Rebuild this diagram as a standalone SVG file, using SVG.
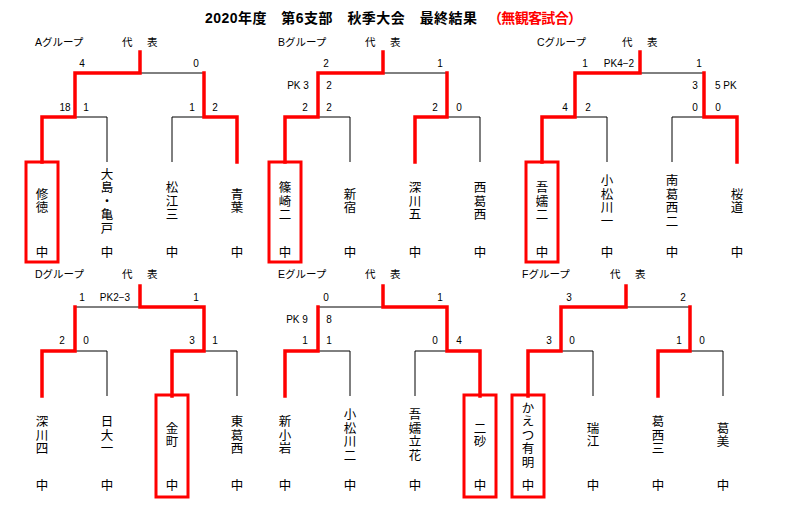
<svg xmlns="http://www.w3.org/2000/svg" width="792" height="511" viewBox="0 0 792 511">
<style>
text{font-family:"Liberation Sans","Noto Sans CJK JP",sans-serif;fill:#000}
.t{font-size:14px;font-weight:bold}
.s{font-size:10px;text-anchor:middle}
.l{font-size:10.5px}
.n{font-size:12.5px;text-anchor:middle}
.k{fill:none;stroke:#000;stroke-width:1}
.r{fill:none;stroke:#f00;stroke-width:3.5;stroke-linejoin:miter;stroke-linecap:square}
.b{fill:none;stroke:#f00;stroke-width:3}
</style>
<rect width="792" height="511" fill="#fff"/>
<text class="t" x="205" y="23" textLength="272">2020年度　第6支部　秋季大会　最終結果</text>
<text class="t" x="488" y="23" fill="#f00" style="fill:#f00" textLength="94">（無観客試合）</text>

<defs>
<g id="base">
<path class="k" d="M42,162V117H107V162M172,162V117H237V162M75,117V73H204V117M140,73V52"/>
</g>
</defs>

<g id="connectors">
<g transform="translate(0,0)"><use href="#base"/><path class="r" d="M42,162V117H75V73H140V52M204,73V117H237V162"/></g>
<g transform="translate(243,0)"><use href="#base"/><path class="r" d="M42,162V117H75V73H140V52M204,73V117H172V162"/></g>
<g transform="translate(500,0)"><use href="#base"/><path class="r" d="M42,162V117H75V73H140V52M204,73V117H237V162"/></g>
<g transform="translate(0,234)"><use href="#base"/><path class="r" d="M42,162V117H75V73M140,52V73H204V117H172V162"/></g>
<g transform="translate(243,234)"><use href="#base"/><path class="r" d="M42,162V117H75V73M140,52V73H204V117H237V162"/></g>
<g transform="translate(486,234)"><use href="#base"/><path class="r" d="M42,162V117H75V73H140V52M204,73V117H172V162"/></g>
</g>

<!-- Group A -->
<g id="groupA">
<text class="l" x="35" y="46">Aグループ</text><text class="l" x="122" y="46">代</text><text class="l" x="147" y="46">表</text>
<g class="scores"><text class="s" x="82" y="67">4</text><text class="s" x="196" y="67">0</text><text class="s" x="65" y="111">18</text><text class="s" x="86" y="111">1</text><text class="s" x="192" y="111">1</text><text class="s" x="215" y="111">2</text></g>
<g id="a1"><rect class="b" x="26" y="162" width="32" height="100"/><text class="n" x="42" y="198.75">修<tspan x="42" dy="13.5">徳</tspan></text><text class="n" x="42" y="256.5">中</text></g>
<g id="a2"><text class="n" x="107" y="178.5">大<tspan x="107" dy="13.5">島</tspan><tspan x="107" dy="13.5">・</tspan><tspan x="107" dy="13.5">亀</tspan><tspan x="107" dy="13.5">戸</tspan></text><text class="n" x="107" y="256.5">中</text></g>
<g id="a3"><text class="n" x="172" y="192">松<tspan x="172" dy="13.5">江</tspan><tspan x="172" dy="13.5">三</tspan></text><text class="n" x="172" y="256.5">中</text></g>
<g id="a4"><text class="n" x="237" y="198.75">青<tspan x="237" dy="13.5">葉</tspan></text><text class="n" x="237" y="256.5">中</text></g>
</g>

<!-- Group B -->
<g id="groupB" transform="translate(243,0)">
<text class="l" x="35" y="46">Bグループ</text><text class="l" x="122" y="46">代</text><text class="l" x="147" y="46">表</text>
<g class="scores"><text class="s" x="83" y="67">2</text><text class="s" x="197" y="67">1</text><text class="s" x="55" y="89">PK 3</text><text class="s" x="86" y="89">2</text><text class="s" x="62" y="111">2</text><text class="s" x="86" y="111">2</text><text class="s" x="192" y="111">2</text><text class="s" x="216" y="111">0</text></g>
<g id="b1"><rect class="b" x="26" y="162" width="32" height="100"/><text class="n" x="42" y="192">篠<tspan x="42" dy="13.5">崎</tspan><tspan x="42" dy="13.5">二</tspan></text><text class="n" x="42" y="256.5">中</text></g>
<g id="b2"><text class="n" x="107" y="198.75">新<tspan x="107" dy="13.5">宿</tspan></text><text class="n" x="107" y="256.5">中</text></g>
<g id="b3"><text class="n" x="172" y="192">深<tspan x="172" dy="13.5">川</tspan><tspan x="172" dy="13.5">五</tspan></text><text class="n" x="172" y="256.5">中</text></g>
<g id="b4"><text class="n" x="237" y="192">西<tspan x="237" dy="13.5">葛</tspan><tspan x="237" dy="13.5">西</tspan></text><text class="n" x="237" y="256.5">中</text></g>
</g>

<!-- Group C -->
<g id="groupC" transform="translate(500,0)">
<text class="l" x="37" y="46">Cグループ</text><text class="l" x="122" y="46">代</text><text class="l" x="147" y="46">表</text>
<g class="scores"><text class="s" x="85" y="67">1</text><text class="s" x="119" y="67">PK4−2</text><text class="s" x="199" y="67">1</text><text class="s" x="195" y="89">3</text><text class="l" x="215" y="89" style="font-size:10px">5 PK</text><text class="s" x="65" y="111">4</text><text class="s" x="88" y="111">2</text><text class="s" x="195" y="111">0</text><text class="s" x="218" y="111">0</text></g>
<g id="c1"><rect class="b" x="26" y="162" width="32" height="100"/><text class="n" x="42" y="192">吾<tspan x="42" dy="13.5">嬬</tspan><tspan x="42" dy="13.5">二</tspan></text><text class="n" x="42" y="256.5">中</text></g>
<g id="c2"><text class="n" x="107" y="185.25">小<tspan x="107" dy="13.5">松</tspan><tspan x="107" dy="13.5">川</tspan><tspan x="107" dy="13.5">一</tspan></text><text class="n" x="107" y="256.5">中</text></g>
<g id="c3"><text class="n" x="172" y="185.25">南<tspan x="172" dy="13.5">葛</tspan><tspan x="172" dy="13.5">西</tspan><tspan x="172" dy="13.5">二</tspan></text><text class="n" x="172" y="256.5">中</text></g>
<g id="c4"><text class="n" x="237" y="198.75">桜<tspan x="237" dy="13.5">道</tspan></text><text class="n" x="237" y="256.5">中</text></g>
</g>

<!-- Group D -->
<g id="groupD" transform="translate(0,234)">
<text class="l" x="35" y="44">Dグループ</text><text class="l" x="122" y="44">代</text><text class="l" x="147" y="44">表</text>
<g class="scores"><text class="s" x="82" y="67">1</text><text class="s" x="115" y="67">PK2−3</text><text class="s" x="196" y="67">1</text><text class="s" x="62" y="110">2</text><text class="s" x="86" y="110">0</text><text class="s" x="192" y="110">3</text><text class="s" x="215" y="110">1</text></g>
<g id="d1"><text class="n" x="42" y="192">深<tspan x="42" dy="13.5">川</tspan><tspan x="42" dy="13.5">四</tspan></text><text class="n" x="42" y="255.5">中</text></g>
<g id="d2"><text class="n" x="107" y="192">日<tspan x="107" dy="13.5">大</tspan><tspan x="107" dy="13.5">一</tspan></text><text class="n" x="107" y="255.5">中</text></g>
<g id="d3"><rect class="b" x="156" y="161" width="32" height="102"/><text class="n" x="172" y="198.75">金<tspan x="172" dy="13.5">町</tspan></text><text class="n" x="172" y="255.5">中</text></g>
<g id="d4"><text class="n" x="237" y="192">東<tspan x="237" dy="13.5">葛</tspan><tspan x="237" dy="13.5">西</tspan></text><text class="n" x="237" y="255.5">中</text></g>
</g>

<!-- Group E -->
<g id="groupE" transform="translate(243,234)">
<text class="l" x="35" y="44">Eグループ</text><text class="l" x="122" y="44">代</text><text class="l" x="147" y="44">表</text>
<g class="scores"><text class="s" x="83" y="67">0</text><text class="s" x="197" y="67">1</text><text class="s" x="54" y="89">PK 9</text><text class="s" x="86" y="89">8</text><text class="s" x="62" y="110">1</text><text class="s" x="86" y="110">1</text><text class="s" x="192" y="110">0</text><text class="s" x="216" y="110">4</text></g>
<g id="e1"><text class="n" x="42" y="192">新<tspan x="42" dy="13.5">小</tspan><tspan x="42" dy="13.5">岩</tspan></text><text class="n" x="42" y="255.5">中</text></g>
<g id="e2"><text class="n" x="107" y="185.25">小<tspan x="107" dy="13.5">松</tspan><tspan x="107" dy="13.5">川</tspan><tspan x="107" dy="13.5">二</tspan></text><text class="n" x="107" y="255.5">中</text></g>
<g id="e3"><text class="n" x="172" y="185.25">吾<tspan x="172" dy="13.5">嬬</tspan><tspan x="172" dy="13.5">立</tspan><tspan x="172" dy="13.5">花</tspan></text><text class="n" x="172" y="255.5">中</text></g>
<g id="e4"><rect class="b" x="221" y="161" width="32" height="102"/><text class="n" x="237" y="198.75">二<tspan x="237" dy="13.5">砂</tspan></text><text class="n" x="237" y="255.5">中</text></g>
</g>

<!-- Group F -->
<g id="groupF" transform="translate(486,234)">
<text class="l" x="36" y="44">Fグループ</text><text class="l" x="124" y="44">代</text><text class="l" x="149" y="44">表</text>
<g class="scores"><text class="s" x="83" y="67">3</text><text class="s" x="197" y="67">2</text><text class="s" x="63" y="110">3</text><text class="s" x="86" y="110">0</text><text class="s" x="193" y="110">1</text><text class="s" x="216" y="110">0</text></g>
<g id="f1"><rect class="b" x="26" y="161" width="32" height="102"/><text class="n" x="42" y="178.5">か<tspan x="42" dy="13.5">え</tspan><tspan x="42" dy="13.5">つ</tspan><tspan x="42" dy="13.5">有</tspan><tspan x="42" dy="13.5">明</tspan></text><text class="n" x="42" y="255.5">中</text></g>
<g id="f2"><text class="n" x="107" y="198.75">瑞<tspan x="107" dy="13.5">江</tspan></text><text class="n" x="107" y="255.5">中</text></g>
<g id="f3"><text class="n" x="172" y="192">葛<tspan x="172" dy="13.5">西</tspan><tspan x="172" dy="13.5">三</tspan></text><text class="n" x="172" y="255.5">中</text></g>
<g id="f4"><text class="n" x="237" y="198.75">葛<tspan x="237" dy="13.5">美</tspan></text><text class="n" x="237" y="255.5">中</text></g>
</g>
</svg>
